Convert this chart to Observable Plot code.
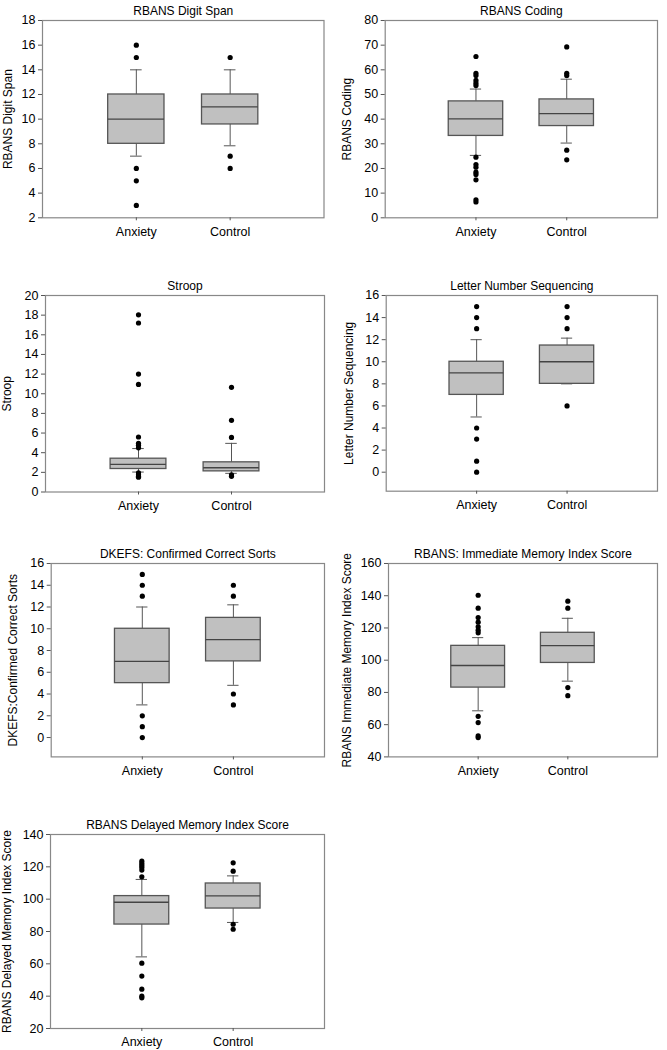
<!DOCTYPE html>
<html><head><meta charset="utf-8">
<script src="https://cdn.jsdelivr.net/npm/d3@7"></script>
<script src="https://cdn.jsdelivr.net/npm/@observablehq/plot@0.6"></script>
<style>
body{margin:0;background:#fff;}
#chart{position:relative;width:667px;height:1050px;overflow:hidden;font-family:"Liberation Sans",Arial,sans-serif;}
.panel{position:absolute;}
</style></head><body><div id="chart"></div>
<script>
// ---- data ----
const groups = ["Anxiety", "Control"];
const titles = ["RBANS Digit Span", "RBANS Coding", "Stroop", "Letter Number Sequencing",
  "DKEFS: Confirmed Correct Sorts", "RBANS: Immediate Memory Index Score", "RBANS Delayed Memory Index Score"];
const yLabels = ["RBANS Digit Span", "RBANS Coding", "Stroop", "Letter Number Sequencing",
  "DKEFS:Confirmed Correct Sorts", "RBANS Immediate Memory Index Score", "RBANS Delayed Memory Index Score"];
const yDomains = [[2, 18], [0, 80], [0, 20], [-1.72, 16], [-1.78, 16], [40, 160], [20, 140]];
const yTicks = [d3.range(2, 19, 2), d3.range(0, 81, 10), d3.range(0, 21, 2), d3.range(0, 17, 2),
  d3.range(0, 17, 2), d3.range(40, 161, 20), d3.range(20, 141, 20)];

// box stats per group: [lower whisker, Q1, median, Q3, upper whisker]
const digitSpanBox = [[7, 8, 10, 12, 14], [7.84, 9.57, 11, 12, 14]];
const digitSpanOut = [[16, 15, 6, 5, 3], [15, 7, 6]];
const codingBox = [[25.3, 33.2, 40.1, 47.2, 52.2], [30.3, 37.2, 42.2, 48, 56.2]];
const codingOut = [[65.4, 58.6, 57.7, 55.7, 54.6, 53.6, 24.6, 21.6, 20.5, 18.5, 17.6, 15.4, 7.3, 6.4],
  [69.3, 58.6, 57.7, 27.4, 23.5]];
const stroopBox = [[2.03, 2.34, 2.81, 3.39, 4.42], [1.9, 2.1, 2.47, 3.02, 4.95]];
const stroopOut = [[18.03, 17.2, 12.0, 10.95, 5.6, 4.95, 4.75, 4.5, 1.95, 1.75, 1.6, 1.5],
  [10.65, 7.3, 5.55, 1.75, 1.6]];
const lnsBox = [[5, 7, 9, 10, 12], [8, 8, 10, 11.47, 12.14]];
const lnsOut = [[15, 14, 13, 4, 3, 1, 0], [15, 14, 13, 6]];
const dkefsBox = [[3, 5, 7, 10, 12], [4.8, 7, 9, 11, 12.2]];
const dkefsOut = [[15, 14, 13, 2, 1, 0], [14, 13, 4, 3]];
const immBox = [[68.6, 83, 96.7, 108.9, 114], [87, 98.3, 109, 117, 126]];
const immOut = [[140.3, 132.3, 126.5, 123.6, 120.7, 118.6, 117, 65.2, 61.3, 53, 52], [136.6, 132.3, 83, 78]];
const delBox = [[64.3, 84.3, 98.1, 101.9, 112.2], [85.6, 94.2, 102, 109.7, 114.4]];
const delOut = [[123.5, 122, 120.8, 119.6, 118, 113.8, 60.4, 52.4, 44.3, 40, 39], [122.5, 117.3, 84.5, 81.4]];

const boxes = [digitSpanBox, codingBox, stroopBox, lnsBox, dkefsBox, immBox, delBox];
const outliers = [digitSpanOut, codingOut, stroopOut, lnsOut, dkefsOut, immOut, delOut];

// ---- layout (page pixels) ----
const layout = [
  {col: 0, top: 20, bottom: 217.3, left: 42, right: 323.5, labelX: 8},
  {col: 1, top: 20, bottom: 217.3, left: 384.7, right: 657, labelX: 13.3},
  {col: 0, top: 295, bottom: 491.5, left: 45, right: 324, labelX: 6.7},
  {col: 1, top: 295, bottom: 490.7, left: 385.7, right: 657, labelX: 15.5},
  {col: 0, top: 563.3, bottom: 756.7, left: 50.7, right: 324, labelX: 12.7},
  {col: 1, top: 563.3, bottom: 756.7, left: 388, right: 657, labelX: 13.3},
  {col: 0, top: 834.3, bottom: 1028.3, left: 50, right: 324, labelX: 6.7}
];

const chart = document.getElementById("chart");
const BW = 0.3, CAP = 0.062;

layout.forEach((L, k) => {
  const svgLeft = L.col ? 333 : 0;
  const svgW = L.col ? 334 : 333;
  const mt = 20, mb = 32;
  const H = mt + (L.bottom - L.top) + mb;
  const ml = L.left - svgLeft, mr = svgLeft + svgW - L.right;
  const rows = groups.map((g, i) => {
    const b = boxes[k][i];
    return {g, i: i + 1, lo: b[0], q1: b[1], med: b[2], q3: b[3], hi: b[4]};
  });
  const outs = groups.flatMap((g, i) => outliers[k][i].map(v => ({g, i: i + 1, v})));
  const fig = Plot.plot({
    width: svgW, height: H,
    marginTop: mt, marginBottom: mb, marginLeft: ml, marginRight: mr,
    style: {fontFamily: '"Liberation Sans", Arial, sans-serif', fontSize: "12px", overflow: "visible", background: "transparent"},
    x: {domain: [0, 3], axis: null},
    y: {domain: yDomains[k], axis: null},
    marks: [
      Plot.ruleX(rows, {x: "i", y1: "q3", y2: "hi", stroke: "#555", strokeWidth: 1}),
      Plot.ruleX(rows, {x: "i", y1: "lo", y2: "q1", stroke: "#555", strokeWidth: 1}),
      Plot.ruleY(rows, {y: "hi", x1: d => d.i - CAP, x2: d => d.i + CAP, stroke: "#555", strokeWidth: 1}),
      Plot.ruleY(rows, {y: "lo", x1: d => d.i - CAP, x2: d => d.i + CAP, stroke: "#555", strokeWidth: 1}),
      Plot.rect(rows, {x1: d => d.i - BW, x2: d => d.i + BW, y1: "q1", y2: "q3", fill: "#c0c0c0", stroke: "#555", strokeWidth: 1.3}),
      Plot.ruleY(rows, {y: "med", x1: d => d.i - BW, x2: d => d.i + BW, stroke: "#444", strokeWidth: 1.3}),
      Plot.dot(outs, {x: "i", y: "v", r: 2.6, fill: "#000", stroke: "none"}),
      Plot.frame({stroke: "#888", strokeWidth: 1.2}),
      Plot.axisY({ticks: yTicks[k], tickSize: 4, tickPadding: 3, label: null, stroke: "#555", fill: "#000", fontSize: 12.5}),
      Plot.axisX({ticks: [1, 2], tickFormat: d => groups[d - 1], tickSize: 3, tickPadding: 6, label: null, stroke: "#555", fill: "#000", fontSize: 12.5}),
      Plot.text([titles[k]], {frameAnchor: "top", dy: -14.5, fontSize: 12, fill: "#000"}),
      Plot.text([yLabels[k]], {frameAnchor: "left", textAnchor: "middle", rotate: -90, dx: -(ml - L.labelX), fontSize: 12, fill: "#000"})
    ]
  });
  const div = document.createElement("div");
  div.className = "panel";
  div.style.left = svgLeft + "px";
  div.style.top = (L.top - mt) + "px";
  div.appendChild(fig);
  chart.appendChild(div);
});
</script>
</body></html>
